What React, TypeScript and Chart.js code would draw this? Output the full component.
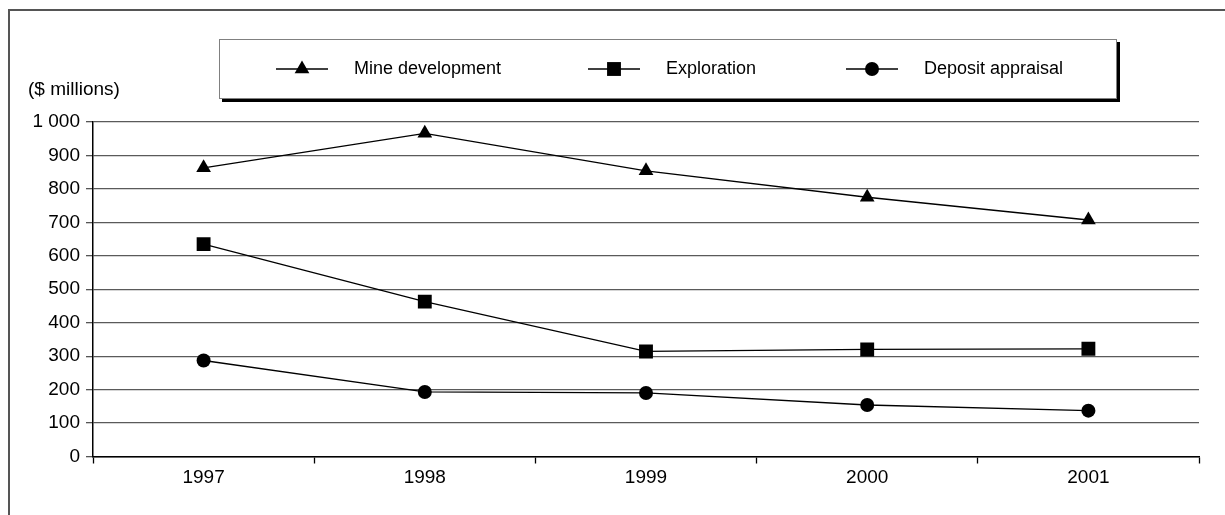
import React, { useEffect, useRef } from "react";
import { Chart, registerables } from "chart.js";

Chart.register(...registerables);

// ---- data ----
const years = ["1997", "1998", "1999", "2000", "2001"];
const mineDevelopment = [863, 966, 854, 775, 707];
const exploration = [635, 463, 314, 320, 322];
const depositAppraisal = [287, 193, 190, 154, 137];
const seriesNames = ["Mine development", "Exploration", "Deposit appraisal"];
const yAxisTitle = "($ millions)";
const yMin = 0;
const yMax = 1000;
const yStep = 100;

const FONT_FAMILY = '"Liberation Sans", Arial, Helvetica, sans-serif';
const TICK_FONT_SIZE = 19;
const LEGEND_FONT_SIZE = 18;

function formatTick(v: number): string {
  return String(v).replace(/\B(?=(\d{3})+(?!\d))/g, " ");
}

function drawMarker(ctx: CanvasRenderingContext2D, style: string, r: number, x: number, y: number) {
  ctx.beginPath();
  if (style === "triangle") {
    let rad = 0;
    ctx.moveTo(x + Math.sin(rad) * r, y - Math.cos(rad) * r);
    rad += (2 * Math.PI) / 3;
    ctx.lineTo(x + Math.sin(rad) * r, y - Math.cos(rad) * r);
    rad += (2 * Math.PI) / 3;
    ctx.lineTo(x + Math.sin(rad) * r, y - Math.cos(rad) * r);
    ctx.closePath();
  } else if (style === "rect") {
    const s = Math.SQRT1_2 * r;
    ctx.rect(x - s, y - s, 2 * s, 2 * s);
  } else {
    ctx.arc(x, y, r, 0, Math.PI * 2);
  }
  ctx.fill();
}

const boxLegendPlugin = {
  id: "boxLegend",
  afterDraw(chart: any) {
    const ctx: CanvasRenderingContext2D = chart.ctx;
    ctx.save();
    ctx.font = `${TICK_FONT_SIZE}px ${FONT_FAMILY}`;
    ctx.fillStyle = "#000";
    ctx.textBaseline = "middle";
    ctx.textAlign = "left";
    ctx.fillText(yAxisTitle, 28, 90);

    // legend box with shadow
    const bx = 219, by = 39, bw = 898, bh = 60;
    ctx.fillStyle = "#000";
    ctx.fillRect(bx + 3, by + 3, bw, bh);
    ctx.fillStyle = "#fff";
    ctx.fillRect(bx, by, bw, bh);
    ctx.strokeStyle = "#808080";
    ctx.lineWidth = 1;
    ctx.strokeRect(bx + 0.5, by + 0.5, bw - 1, bh - 1);

    ctx.font = `${LEGEND_FONT_SIZE}px ${FONT_FAMILY}`;
    const markerX = [302, 614, 872];
    const cy = by + bh / 2;
    chart.data.datasets.forEach((ds: any, i: number) => {
      const mx = markerX[i];
      ctx.strokeStyle = "#000";
      ctx.lineWidth = 1.3;
      ctx.beginPath();
      ctx.moveTo(mx - 26, cy);
      ctx.lineTo(mx + 26, cy);
      ctx.stroke();
      ctx.fillStyle = "#000";
      drawMarker(ctx, ds.pointStyle, ds.pointRadius, mx, cy);
      ctx.fillStyle = "#000";
      ctx.fillText(ds.label, mx + 52, cy);
    });
    ctx.restore();
  },
};

export default function App() {
  const canvasRef = useRef<HTMLCanvasElement | null>(null);

  useEffect(() => {
    document.body.style.overflow = "hidden";
    const canvas = canvasRef.current;
    if (!canvas) return;
    const font = { family: FONT_FAMILY, size: TICK_FONT_SIZE };
    const common = {
      borderColor: "#000",
      borderWidth: 1.3,
      pointBackgroundColor: "#000",
      pointBorderColor: "#000",
      pointBorderWidth: 0,
      fill: false,
      tension: 0,
    };
    const chart = new Chart(canvas, {
      type: "line",
      data: {
        labels: years,
        datasets: [
          { ...common, label: seriesNames[0], data: mineDevelopment, pointStyle: "triangle", pointRadius: 8.5 },
          { ...common, label: seriesNames[1], data: exploration, pointStyle: "rect", pointRadius: 9.8 },
          { ...common, label: seriesNames[2], data: depositAppraisal, pointStyle: "circle", pointRadius: 7 },
        ] as any,
      },
      options: {
        animation: false,
        responsive: false,
        events: [],
        layout: { padding: { left: 0, right: 26, top: 122, bottom: 18.5 } },
        plugins: {
          legend: { display: false },
          tooltip: { enabled: false },
          title: { display: false },
        },
        scales: {
          x: {
            type: "category",
            offset: true,
            grid: {
              offset: true,
              drawOnChartArea: false,
              drawTicks: true,
              tickLength: 7,
              tickColor: "#000",
              tickWidth: 1.3,
            },
            border: { display: true, color: "#000", width: 1.5 },
            ticks: { color: "#000", font, padding: 3, maxRotation: 0, autoSkip: false },
            afterFit: (s: any) => {
              s.height = 40;
            },
          },
          y: {
            min: yMin,
            max: yMax,
            ticks: {
              stepSize: yStep,
              color: "#000",
              font,
              padding: 6,
              callback: (v: any) => formatTick(Number(v)),
            },
            grid: {
              color: "#5a5a5a",
              lineWidth: 1.3,
              tickLength: 7,
              tickColor: "#555",
            },
            border: { display: true, color: "#000", width: 1.5 },
            afterFit: (s: any) => {
              s.width = 93;
            },
          },
        },
      } as any,
      plugins: [boxLegendPlugin],
    });
    return () => chart.destroy();
  }, []);

  return (
    <div>
      <div
        style={{
          position: "fixed",
          left: 8,
          top: 9,
          width: 1400,
          height: 700,
          borderLeft: "2px solid #555",
          borderTop: "2px solid #555",
          boxSizing: "border-box",
        }}
      />
      <canvas
        ref={canvasRef}
        width={1225}
        height={515}
        style={{ position: "fixed", left: 0, top: 0, width: 1225, height: 515, display: "block" }}
      />
    </div>
  );
}
